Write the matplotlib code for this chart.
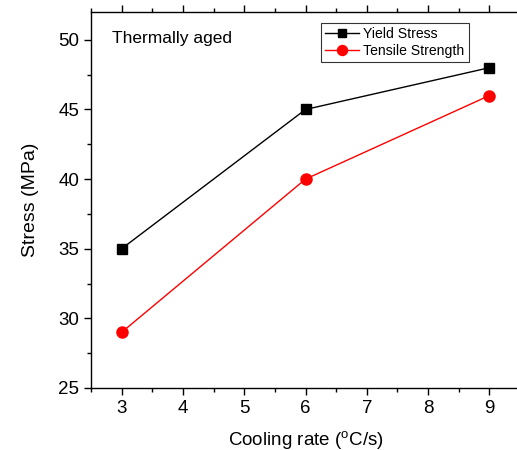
import matplotlib
matplotlib.use('Agg')
import matplotlib.pyplot as plt
from matplotlib.ticker import MultipleLocator

plt.rcParams['font.family'] = ['Liberation Sans', 'DejaVu Sans']

cooling_rate = [3, 6, 9]
yield_stress = [35, 45, 48]
tensile_strength = [29, 40, 46]

fig = plt.figure(figsize=(5.17, 4.5), dpi=100)
ax = fig.add_axes([91/517, 62/450, 429/517, 376/450])

ax.plot(cooling_rate, yield_stress, color='black', lw=1, marker='s', ms=7,
        label='Yield Stress')
ax.plot(cooling_rate, tensile_strength, color='red', lw=1, marker='o', ms=8,
        label='Tensile Strength')

ax.set_xlim(2.5, 9.5)
ax.set_ylim(25, 52)
ax.xaxis.set_major_locator(MultipleLocator(1))
ax.xaxis.set_minor_locator(MultipleLocator(0.5))
ax.yaxis.set_major_locator(MultipleLocator(5))
ax.yaxis.set_minor_locator(MultipleLocator(2.5))

ax.tick_params(which='both', direction='out', labelsize=13.5, width=1)
ax.tick_params(which='major', length=5)
ax.tick_params(which='minor', length=3)
ax.tick_params(axis='x', which='both', top=True, labeltop=False)
ax.spines['right'].set_visible(False)
for s in ['left', 'bottom', 'top']:
    ax.spines[s].set_linewidth(1)

ax.set_xlabel('Cooling rate ($\\mathregular{^oC/s}$)', fontsize=13.5, labelpad=9)
ax.set_ylabel('Stress (MPa)', fontsize=14, labelpad=14)
ax.text(0.05, 0.95, 'Thermally aged', transform=ax.transAxes, fontsize=12.5,
        va='top', ha='left')

leg = ax.legend(loc='upper left', bbox_to_anchor=(0.52, 0.99), fontsize=10.1,
                frameon=True, fancybox=False, edgecolor='black',
                handlelength=2.4, handletextpad=0.3, borderpad=0.3,
                labelspacing=0.2, markerscale=0.9)
leg.get_frame().set_linewidth(0.8)

fig.savefig('out.png', dpi=100)
